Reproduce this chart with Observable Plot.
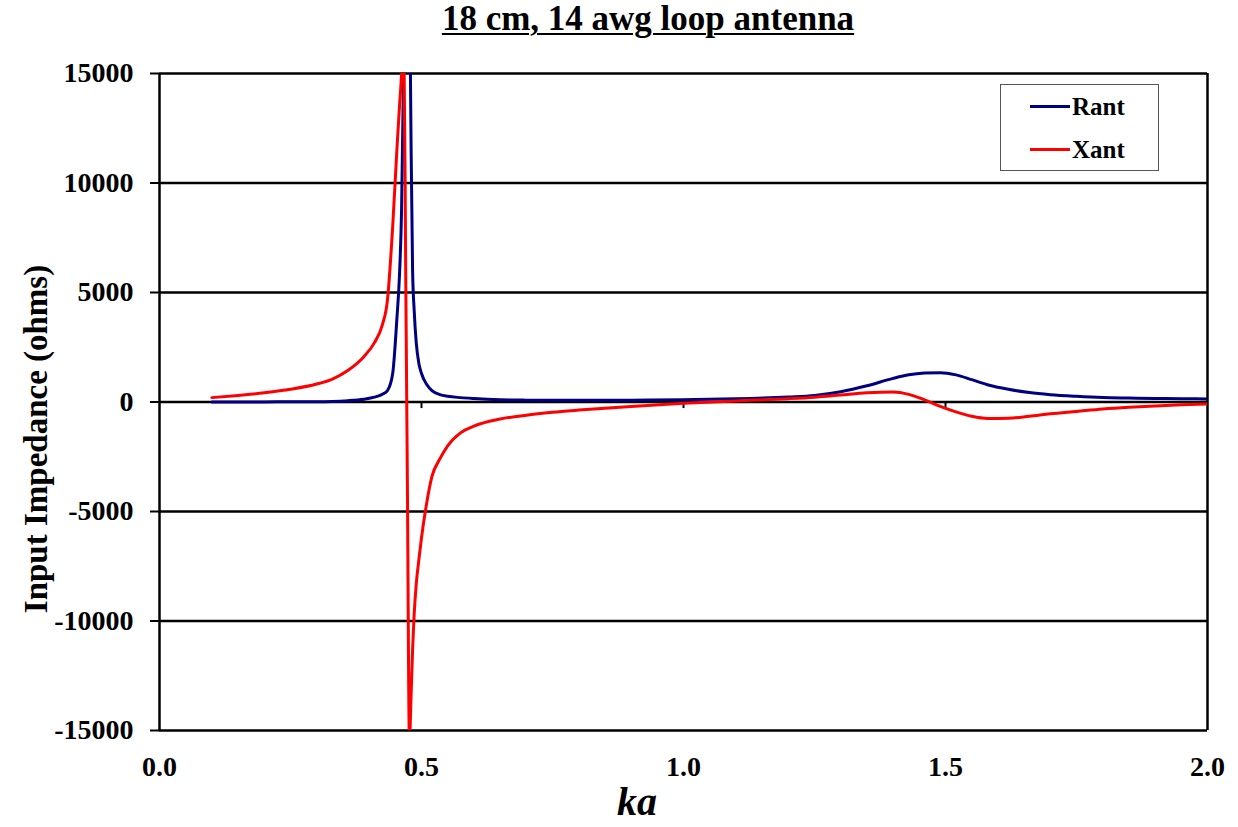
<!DOCTYPE html>
<html>
<head>
<meta charset="utf-8">
<script src="https://cdn.jsdelivr.net/npm/d3@7"></script>
<script src="https://cdn.jsdelivr.net/npm/@observablehq/plot@0.6"></script>
<style>
  html, body { margin: 0; padding: 0; background: white; }
  #wrap { position: relative; width: 1238px; height: 827px; font-family: "Liberation Serif", Tinos, "Nimbus Roman", "Times New Roman", Times, "DejaVu Serif", serif; font-weight: bold; color: black; }
  .ov { position: absolute; white-space: nowrap; line-height: 1; }
  #title { left: 648px; top: 1px; font-size: 35px; transform: translateX(-50%); text-decoration: underline; text-decoration-thickness: 2px; text-underline-offset: 3px; }
  #xlabel { left: 637px; top: 782px; font-size: 40px; font-style: italic; transform: translateX(-50%); }
  #ylabel { left: 36px; top: 439px; font-size: 33px; transform: translate(-50%, -50%) rotate(-90deg); }
  #legend { position: absolute; left: 1000px; top: 84px; width: 159px; height: 87px; border: 1px solid #555; background: white; box-sizing: border-box; }
  .lg-line { position: absolute; left: 29px; width: 40px; height: 3px; }
  .lg-text { position: absolute; left: 71px; font-size: 25px; line-height: 1; }
</style>
</head>
<body>
<div id="wrap">
  <div id="chart"></div>
  <div class="ov" id="title"></div>
  <div class="ov" id="xlabel"></div>
  <div class="ov" id="ylabel"></div>
  <div id="legend"></div>
</div>
<script>
const titleText = "18 cm, 14 awg loop antenna";
const xLabel = "ka";
const yLabel = "Input Impedance (ohms)";
const seriesNames = ["Rant", "Xant"];
const seriesColors = ["#000080", "#ff0000"];

const ka = [0.10, 0.15, 0.20, 0.25, 0.30, 0.33, 0.36, 0.39, 0.41, 0.425, 0.435, 0.445, 0.453, 0.458, 0.462, 0.466, 0.470, 0.473, 0.477, 0.480, 0.483, 0.486, 0.490, 0.495, 0.50, 0.51, 0.52, 0.535, 0.55, 0.575, 0.60, 0.65, 0.70, 0.75, 0.80, 0.90, 1.00, 1.10, 1.20, 1.25, 1.30, 1.35, 1.40, 1.43, 1.46, 1.49, 1.52, 1.55, 1.58, 1.62, 1.66, 1.70, 1.75, 1.80, 1.85, 1.90, 1.95, 2.00];

const rant = [2, 3, 5, 8, 15, 25, 60, 130, 220, 350, 520, 1300, 3800, 5800, 8800, 15500, 28000, 30000, 20000, 12000, 6000, 4200, 2700, 1760, 1300, 800, 520, 340, 260, 200, 160, 105, 85, 78, 78, 85, 105, 145, 230, 300, 470, 740, 1080, 1240, 1320, 1340, 1240, 1020, 790, 580, 430, 335, 260, 205, 180, 160, 150, 140];

const xant = [200, 300, 420, 580, 820, 1050, 1450, 2070, 2700, 3500, 4650, 8000, 11500, 13500, 15000, 17500, 5500, -3500, -15500, -13500, -11300, -9700, -8300, -7200, -6200, -4600, -3400, -2600, -2000, -1400, -1100, -780, -600, -470, -370, -200, -60, 50, 150, 220, 320, 420, 460, 350, 100, -200, -450, -650, -750, -740, -650, -540, -430, -320, -240, -180, -130, -90];

const yTicks = [-15000, -10000, -5000, 0, 5000, 10000, 15000];
const xTicks = [0, 0.5, 1.0, 1.5, 2.0];
const xMinorTicks = [0.5, 1.0, 1.5];

const rows = ka.map((k, i) => ({ka: k, rant: rant[i], xant: xant[i]}));

const chart = Plot.plot({
  width: 1238,
  height: 827,
  marginLeft: 159,
  marginRight: 31,
  marginTop: 73,
  marginBottom: 97,
  x: {domain: [0, 2]},
  y: {domain: [-15000, 15000]},
  style: {fontFamily: "'Liberation Serif', Tinos, 'Nimbus Roman', 'Times New Roman', Times, 'DejaVu Serif', serif", fontWeight: "bold", fontSize: "28px", color: "black", background: "white", overflow: "visible"},
  marks: [
    Plot.ruleY(yTicks, {stroke: "black", strokeWidth: 2.5}),
    Plot.ruleX([0, 2], {stroke: "black", strokeWidth: 2.5}),
    Plot.ruleX(xMinorTicks, {y1: 0, y2: -300, stroke: "black", strokeWidth: 2}),
    Plot.axisY(yTicks, {tickSize: 9, tickPadding: 17, tickFormat: d => String(d), fontSize: 28, strokeWidth: 2, label: null}),
    Plot.axisX(xTicks, {tickSize: 0, tickPadding: 26, tickFormat: d => d.toFixed(1), fontSize: 28, label: null}),
    Plot.line(rows, {x: "ka", y: "rant", stroke: seriesColors[0], strokeWidth: 3, curve: "monotone-x", clip: true}),
    Plot.line(rows, {x: "ka", y: "xant", stroke: seriesColors[1], strokeWidth: 3, curve: "monotone-x", clip: true})
  ]
});
document.getElementById("chart").appendChild(chart);

document.getElementById("title").textContent = titleText;
document.getElementById("xlabel").textContent = xLabel;
document.getElementById("ylabel").textContent = yLabel;

const legend = document.getElementById("legend");
seriesNames.forEach((name, i) => {
  const line = document.createElement("div");
  line.className = "lg-line";
  line.style.top = (20 + i * 43) + "px";
  line.style.background = seriesColors[i];
  legend.appendChild(line);
  const t = document.createElement("div");
  t.className = "lg-text";
  t.style.top = (9 + i * 43) + "px";
  t.textContent = name;
  legend.appendChild(t);
});
</script>
</body>
</html>
